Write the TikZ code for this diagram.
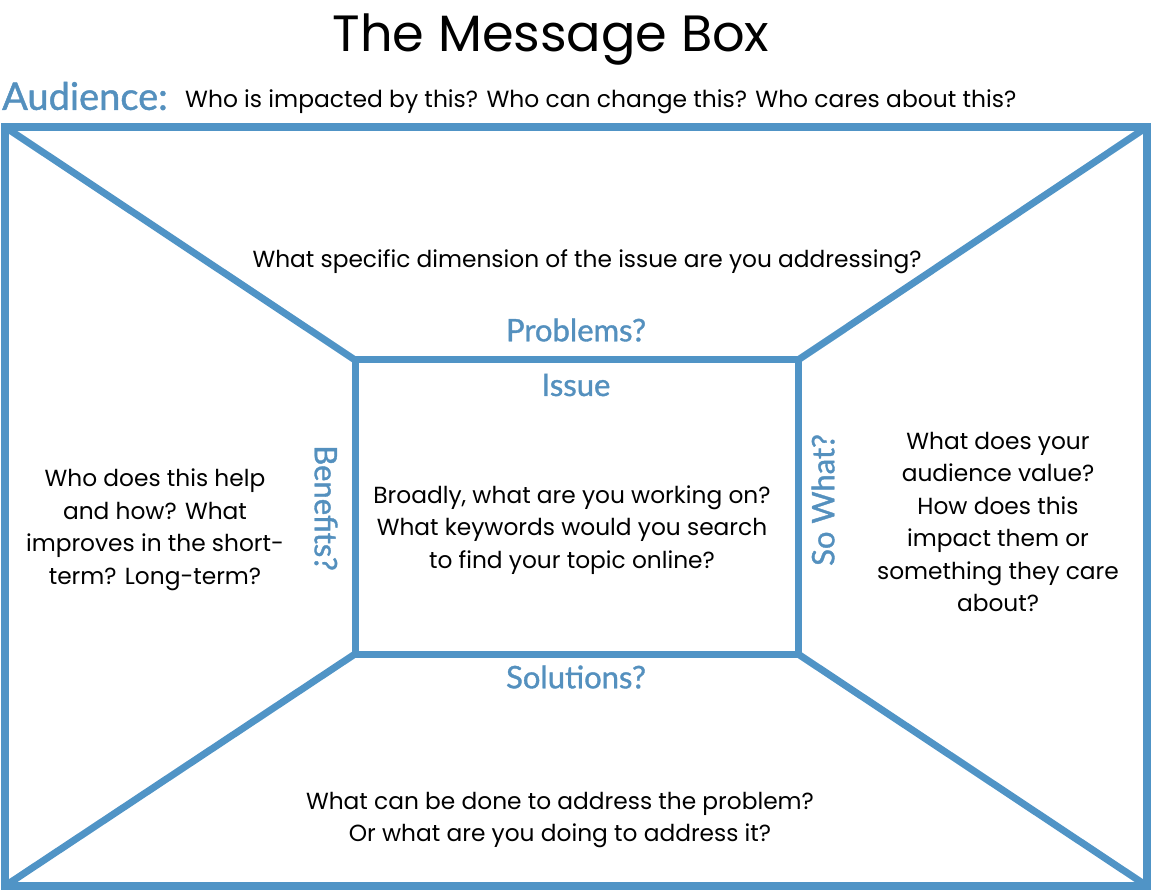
\documentclass[tikz,border=0pt]{standalone}
\usepackage{fontspec}
\setmainfont{Poppins}
\newfontfamily\labfont[FakeBold=1.2]{Lato}
\definecolor{boxblue}{RGB}{80,148,198}
\definecolor{labblue}{RGB}{84,144,190}
\begin{document}
\begin{tikzpicture}[x=1pt,y=-1pt,
  frame/.style={draw=boxblue,line width=8pt,line join=miter},
  inner/.style={draw=boxblue,line width=7pt},
  diag/.style={draw=boxblue,line width=7pt},
  body/.style={align=center,font=\fontsize{23.3}{32.5}\selectfont,inner sep=0pt},
  lab/.style={text=labblue,font=\labfont\fontsize{31}{32}\selectfont,inner sep=0pt}]
\useasboundingbox (0,0) rectangle (1152,893);
\coordinate (OTL) at (5,127);
\coordinate (OTR) at (1147,127);
\coordinate (OBR) at (1147,886);
\coordinate (OBL) at (5,886);
\coordinate (ITL) at (355,360);
\coordinate (ITR) at (798,360);
\coordinate (IBR) at (798,654);
\coordinate (IBL) at (355,654);
\draw[diag] (OTL) -- (ITL);
\draw[diag] (OTR) -- (ITR);
\draw[diag] (OBR) -- (IBR);
\draw[diag] (OBL) -- (IBL);
\draw[frame] (OTL) -- (OTR) -- (OBR) -- (OBL) -- cycle;
\draw[inner] (ITL) -- (ITR) -- (IBR) -- (IBL) -- cycle;
\node[font=\fontsize{51}{60}\selectfont,inner sep=0pt] (title) at (551,40) {The Message Box};
\node[anchor=west,text=labblue,font=\labfont\fontsize{38}{40}\selectfont,inner sep=0pt] (aud) at (2,96) {Audience:};
\node[anchor=west,font=\fontsize{23.4}{30}\selectfont,inner sep=0pt] (audq) at (185,102) {Who is impacted by this? Who can change this? Who cares about this?};
\node[body] (top) at (587,262) {What specific dimension of the issue are you addressing?};
\node[lab] (prob) at (576,330) {Problems?};
\node[lab] (issue) at (576,385) {Issue};
\node[lab] (sol) at (576,677) {Solutions?};
\node[lab,rotate=-90] (ben) at (326,508) {Benefits?};
\node[lab,rotate=90] (sowhat) at (823,500) {So What?};
\node[body] (center) at (572,530) {Broadly, what are you working on?\\What keywords would you search\\to find your topic online?};
\node[body] (left) at (155,530) {Who does this help\\and how? What\\improves in the short-\\term? Long-term?};
\node[body] (right) at (998,522) {What does your\\audience value?\\How does this\\impact them or\\something they care\\about?};
\node[body] (bottom) at (560,820) {What can be done to address the problem?\\Or what are you doing to address it?};
\end{tikzpicture}
\end{document}
